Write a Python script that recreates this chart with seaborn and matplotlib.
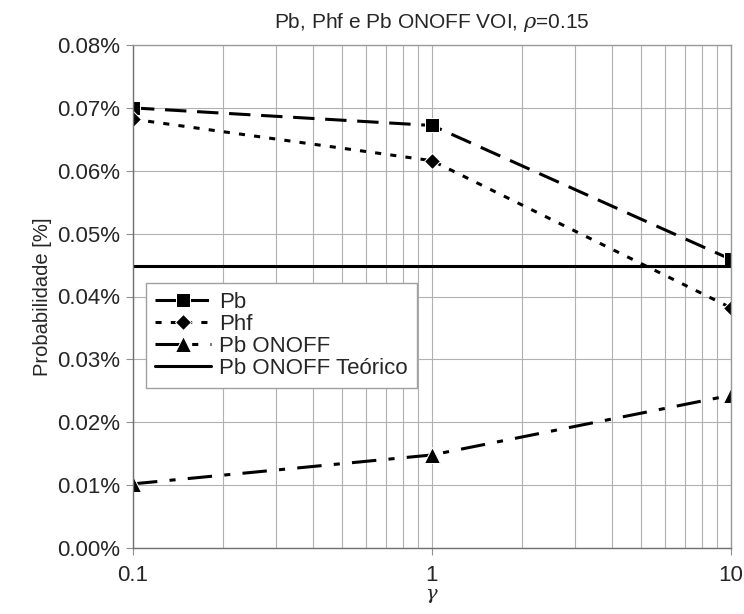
import matplotlib
matplotlib.use('Agg')
import matplotlib.pyplot as plt
import seaborn as sns
from matplotlib.ticker import FuncFormatter, FixedLocator, LogLocator, NullFormatter

# dados (probabilidade em %)
gamma = [0.1, 1, 10]
pb = [0.0700, 0.0672, 0.0459]
phf = [0.0682, 0.0616, 0.0382]
pb_onoff = [0.0102, 0.0148, 0.0243]
pb_onoff_teo = [0.0449, 0.0449, 0.0449]

sns.set_style('white')
plt.rcParams['font.family'] = ['Liberation Sans', 'DejaVu Sans']
plt.rcParams['mathtext.fontset'] = 'dejavuserif'

fig = plt.figure(figsize=(7.44, 6.14), dpi=100)
ax = fig.add_axes([133/744, 1 - 548/614, (731 - 133)/744, (548 - 45)/614])

sns.lineplot(x=gamma, y=pb, ax=ax, color='black', linewidth=2.2, linestyle=(0, (7, 3.5)),
             marker='s', markersize=10, label='Pb')
sns.lineplot(x=gamma, y=phf, ax=ax, color='black', linewidth=2.2, linestyle=(0, (2, 3)),
             marker='D', markersize=8, label='Phf')
sns.lineplot(x=gamma, y=pb_onoff, ax=ax, color='black', linewidth=2.2,
             linestyle=(0, (8, 4, 2, 4)), marker='^', markersize=11, label='Pb ONOFF')
sns.lineplot(x=gamma, y=pb_onoff_teo, ax=ax, color='black', linewidth=2.2,
             label='Pb ONOFF Teórico')

ax.set_xscale('log')
ax.set_xlim(0.1, 10)
ax.set_ylim(0, 0.08)
ax.xaxis.set_major_locator(FixedLocator([0.1, 1, 10]))
ax.xaxis.set_minor_locator(LogLocator(base=10, subs=range(2, 10)))
ax.xaxis.set_minor_formatter(NullFormatter())
ax.xaxis.set_major_formatter(FuncFormatter(lambda v, p: '%g' % v))
ax.yaxis.set_major_locator(FixedLocator([i * 0.01 for i in range(9)]))
ax.yaxis.set_major_formatter(FuncFormatter(lambda v, p: '%.2f%%' % v))

ax.grid(which='major', color='#b0b0b0', linewidth=0.8)
ax.grid(which='minor', axis='x', color='#b0b0b0', linewidth=0.8)
for s in ax.spines.values():
    s.set_color('#9a9a9a')
    s.set_linewidth(1)
ax.spines['left'].set_color('#707070')
ax.spines['bottom'].set_color('#707070')
ax.tick_params(axis='both', which='major', labelsize=16, length=5, color='#909090',
               direction='out', bottom=True, left=True)
ax.tick_params(axis='x', which='minor', length=0)
ax.tick_params(axis='x', pad=7)
ax.tick_params(axis='y', pad=4)

ax.set_title(r'Pb, Phf e Pb ONOFF VOI, $\rho$=0.15', fontsize=15, pad=12)
ax.set_ylabel('Probabilidade [%]', fontsize=14.5, labelpad=4)
ax.set_xlabel(r'$\gamma$', fontsize=14, labelpad=1)

leg = ax.legend(loc='upper left', bbox_to_anchor=(0.022, 0.527), borderaxespad=0,
                fontsize=16, frameon=True, fancybox=False, framealpha=1,
                edgecolor='#a0a0a0', handlelength=2.5, handletextpad=0.4,
                labelspacing=0.05, borderpad=0.4)
leg.get_frame().set_linewidth(1)

fig.savefig('out.png', dpi=100)
